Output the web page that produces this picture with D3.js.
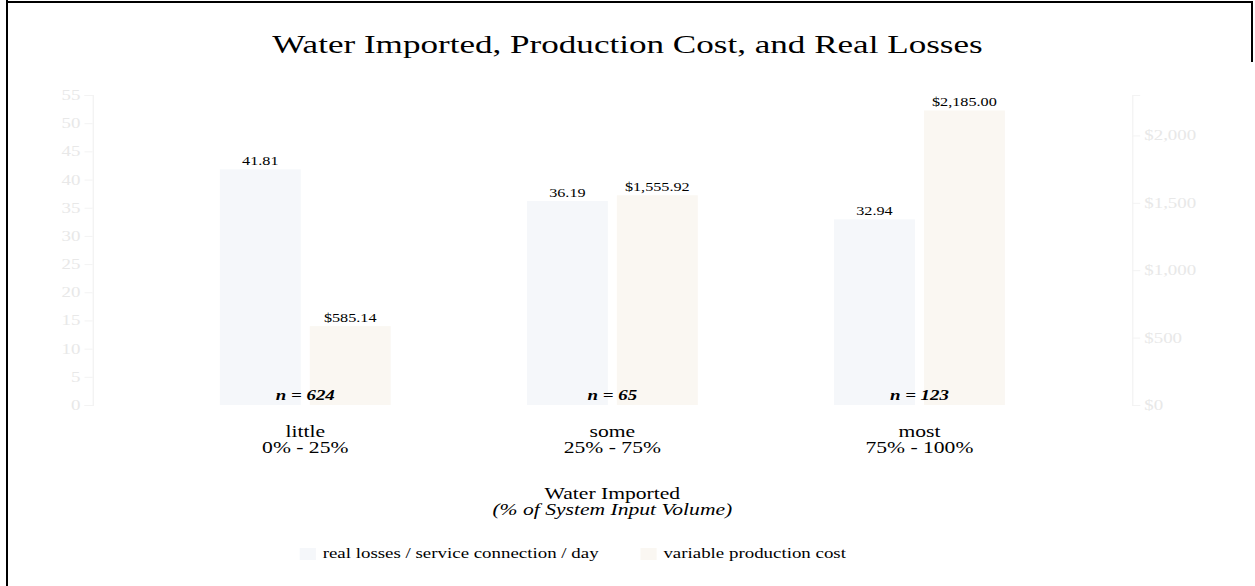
<!DOCTYPE html>
<html lang="en">
	<head>
		<meta charset="utf-8">
		<title>Water Imported, Production Cost, and Real Losses</title>
		<script type="text/javascript" src="https://cdn.jsdelivr.net/npm/d3@7/dist/d3.min.js"></script>
		<style type="text/css">
			body { margin: 0; background: #fff; }
			svg { display: block; font-family: "Liberation Serif", "Times New Roman", serif; }
			.axis path, .axis line { stroke: #f3f3f3; }
			.axis text { fill: #e8e8e8; font-size: 14px; font-family: "Liberation Serif", serif; }
		</style>
	</head>
	<body>
		<script type="text/javascript">
			var categories = ["little", "some", "most"];
			var ranges = ["0% - 25%", "25% - 75%", "75% - 100%"];
			var counts = [624, 65, 123];
			var realLosses = [41.81, 36.19, 32.94];
			var productionCost = [585.14, 1555.92, 2185.00];
			var seriesNames = ["real losses / service connection / day", "variable production cost"];

			//Width and height (the picture is stretched sideways)
			var w = 1255;
			var h = 586;
			var sx = 1.35;
			var vw = w / sx;

			var svg = d3.select("body")
						.append("svg")
						.attr("width", w)
						.attr("height", h);

			//frame
			svg.append("line").attr("x1", 7).attr("y1", 0).attr("x2", 7).attr("y2", h)
				.attr("stroke", "#000").attr("stroke-width", 2);
			svg.append("line").attr("x1", 6).attr("y1", 2).attr("x2", 1252).attr("y2", 2)
				.attr("stroke", "#000").attr("stroke-width", 2);
			svg.append("line").attr("x1", 1252).attr("y1", 1).attr("x2", 1252).attr("y2", 62)
				.attr("stroke", "#000").attr("stroke-width", 2);

			var g = svg.append("g").attr("transform", "scale(" + sx + ",1)");

			var plotLeft = 68.6, plotRight = 838.6, plotTop = 95, plotBottom = 405;

			var x0 = d3.scaleBand()
						.domain(categories)
						.range([plotLeft, plotRight])
						.padding(0.385);

			var x1 = d3.scaleBand()
						.domain([0, 1])
						.range([0, x0.bandwidth()])
						.padding(0.1);

			var yLoss = d3.scaleLinear().domain([0, 55]).range([plotBottom, plotTop]);
			var yCost = d3.scaleLinear().domain([0, 2300]).range([plotBottom, plotTop]);
			var color = ["#f5f7fa", "#faf7f2"];

			//axes, very faint as in the source
			g.append("g")
				.attr("class", "axis")
				.attr("transform", "translate(" + plotLeft + ",0)")
				.call(d3.axisLeft(yLoss).ticks(11));
			g.append("g")
				.attr("class", "axis")
				.attr("transform", "translate(" + plotRight + ",0)")
				.call(d3.axisRight(yCost).ticks(5).tickFormat(d3.format("$,")));

			var groups = g.selectAll(".group")
						.data(categories)
						.enter()
						.append("g")
						.attr("class", "group")
						.attr("transform", function(d) { return "translate(" + x0(d) + ",0)"; });

			var fmtLoss = d3.format(".2f");
			var fmtCost = d3.format("$,.2f");

			groups.each(function(d, i) {
				var grp = d3.select(this);
				var vals = [
					{s: 0, v: realLosses[i], y: yLoss(realLosses[i]), t: fmtLoss(realLosses[i])},
					{s: 1, v: productionCost[i], y: yCost(productionCost[i]), t: fmtCost(productionCost[i])}
				];
				grp.selectAll("rect")
					.data(vals)
					.enter()
					.append("rect")
					.attr("x", function(e) { return x1(e.s); })
					.attr("width", x1.bandwidth())
					.attr("y", function(e) { return e.y; })
					.attr("height", function(e) { return plotBottom - e.y; })
					.style("fill", function(e) { return color[e.s]; });
				grp.selectAll(".val")
					.data(vals)
					.enter()
					.append("text")
					.attr("class", "val")
					.attr("x", function(e) { return x1(e.s) + x1.bandwidth() / 2; })
					.attr("y", function(e) { return e.y - 4; })
					.attr("text-anchor", "middle")
					.style("font-size", "12px")
					.text(function(e) { return e.t; });
				//sample size
				grp.append("text")
					.attr("x", x0.bandwidth() / 2)
					.attr("y", 400)
					.attr("text-anchor", "middle")
					.style("font-size", "14px")
					.style("font-style", "italic")
					.style("font-weight", "bold")
					.text("n = " + counts[i]);
				grp.append("text")
					.attr("x", x0.bandwidth() / 2)
					.attr("y", 437)
					.attr("text-anchor", "middle")
					.style("font-size", "16px")
					.text(d);
				grp.append("text")
					.attr("x", x0.bandwidth() / 2)
					.attr("y", 453)
					.attr("text-anchor", "middle")
					.style("font-size", "16px")
					.text(ranges[i]);
			});

			//titles
			g.append("text")
				.attr("x", vw / 2)
				.attr("y", 53)
				.attr("text-anchor", "middle")
				.style("font-size", "26px")
				.text("Water Imported, Production Cost, and Real Losses");
			g.append("text")
				.attr("x", (plotLeft + plotRight) / 2)
				.attr("y", 499)
				.attr("text-anchor", "middle")
				.style("font-size", "16px")
				.text("Water Imported");
			g.append("text")
				.attr("x", (plotLeft + plotRight) / 2)
				.attr("y", 515)
				.attr("text-anchor", "middle")
				.style("font-size", "16px")
				.style("font-style", "italic")
				.text("(% of System Input Volume)");

			//legend
			var lx = 222;
			seriesNames.forEach(function(name, i) {
				g.append("rect")
					.attr("x", lx)
					.attr("y", 548)
					.attr("width", 12)
					.attr("height", 12)
					.style("fill", color[i]);
				var t = g.append("text")
					.attr("x", lx + 17)
					.attr("y", 558)
					.style("font-size", "14px")
					.text(name);
				lx += 17 + t.node().getComputedTextLength() + 31;
			});
		</script>
	</body>
</html>
